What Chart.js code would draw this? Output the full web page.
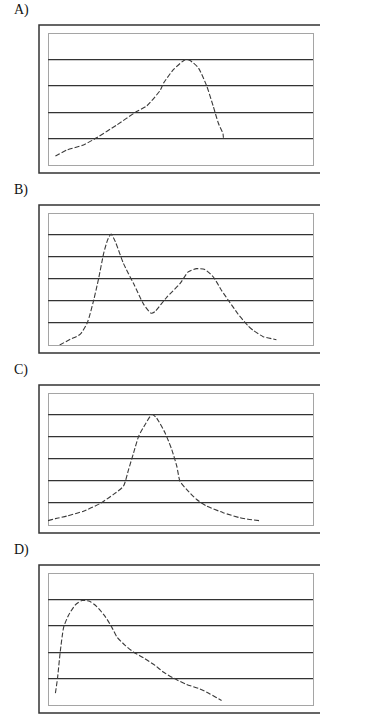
<!DOCTYPE html>
<html>
<meta name="viewport" content="width=device-width, initial-scale=1.0" />
<style>
	html, body {
		width: 100%;
		height: 100%;
		margin: 0;
		padding: 0;
		overflow: hidden;
		background: #fff;
	}
	.panel {
		position: absolute;
		left: 0;
		width: 376px;
		height: 180px;
	}
	.label {
		position: absolute;
		left: 14px;
		top: 2px;
		font-family: "Liberation Serif", "DejaVu Serif", serif;
		font-size: 14px;
		color: #111;
	}
	canvas {
		position: absolute;
		left: 0;
		top: 0;
	}
</style>
<script src="https://cdn.jsdelivr.net/npm/chart.js"></script>
<script>

	// Panel letters and the number of grid bands in each panel
	var panelLabels = ["A)", "B)", "C)", "D)"];
	var bandCounts = [5, 6, 6, 5];

	// Curve A
	var curveAx = [2.8, 7.2, 13.4, 18.5, 26, 32.9, 37.3, 42.3, 43.6, 47.3, 51.7, 53.6, 56.8, 59.9, 62.4, 64.3, 66, 66.2];
	var curveAy = [0.34, 0.57, 0.76, 1.04, 1.52, 1.99, 2.24, 2.82, 3.1, 3.61, 3.99, 3.96, 3.67, 2.99, 2.21, 1.58, 1.2, 1.03];

	// Curve B
	var curveBx = [4.4, 8.4, 12.2, 14.9, 17.2, 19.1, 21, 22.5, 23.8, 25.4, 28.5, 32.3, 36, 38.8, 40.4, 44.8, 49.8, 52.9, 56.1, 59.2, 62.4, 65.5, 68.6, 71.7, 75.5, 77.4, 81.2, 86.2];
	var curveBy = [0, 0.26, 0.49, 1.03, 2.02, 3.02, 4.16, 4.78, 5.04, 4.7, 3.7, 2.79, 1.87, 1.45, 1.52, 2.17, 2.79, 3.32, 3.47, 3.43, 3.09, 2.48, 1.94, 1.41, 0.87, 0.67, 0.38, 0.24];

	// Curve C
	var curveCx = [0, 2.8, 7.2, 13.4, 19.7, 24.7, 28.5, 30.4, 32.3, 34.2, 36.6, 39.2, 41, 44.2, 46.7, 48.6, 49.8, 52.3, 56.1, 59.9, 66.1, 72.4, 75.5, 79.7];
	var curveCy = [0.2, 0.29, 0.41, 0.63, 0.98, 1.39, 1.77, 2.52, 3.28, 4.03, 4.56, 5.02, 4.86, 4.18, 3.43, 2.67, 1.99, 1.62, 1.16, 0.86, 0.56, 0.33, 0.26, 0.2];

	// Curve D
	var curveDx = [2.8, 3.6, 4.6, 5.9, 7.8, 10.3, 12.8, 15.7, 18.4, 21.6, 24.1, 26, 29.1, 32.2, 36, 40.4, 43.5, 47.3, 52.3, 57.3, 61.1, 65.5];
	var curveDy = [0.45, 1.02, 2.0, 2.94, 3.41, 3.79, 3.96, 3.93, 3.73, 3.35, 2.94, 2.58, 2.26, 2.01, 1.79, 1.5, 1.25, 1.02, 0.78, 0.61, 0.42, 0.17];

	var curvesX = [curveAx, curveBx, curveCx, curveDx];
	var curvesY = [curveAy, curveBy, curveCy, curveDy];

	// Outer frame (left, top, bottom) and dotted box round the plot area
	var framePlugin = {
		id: 'frame',
		beforeDatasetsDraw: function (chart) {
			var a = chart.chartArea;
			var ctx = chart.ctx;
			ctx.save();
			ctx.strokeStyle = '#4a4a4a';
			ctx.lineWidth = 1;
			ctx.setLineDash([1, 1]);
			ctx.strokeRect(Math.round(a.left) + 0.5, Math.round(a.top) + 0.5,
				Math.round(a.right - a.left), Math.round(a.bottom - a.top));
			ctx.setLineDash([]);
			ctx.strokeStyle = '#333';
			ctx.lineWidth = 1.5;
			ctx.beginPath();
			ctx.moveTo(a.right + 7, a.top - 8);
			ctx.lineTo(a.left - 9, a.top - 8);
			ctx.lineTo(a.left - 9, a.bottom + 8);
			ctx.lineTo(a.right + 7, a.bottom + 8);
			ctx.stroke();
			ctx.restore();
		}
	};

	window.onload = function () {
		for (var i = 0; i < panelLabels.length; i++) {
			var div = document.createElement('div');
			div.className = 'panel';
			div.style.top = (i * 180) + 'px';
			var lab = document.createElement('div');
			lab.className = 'label';
			lab.textContent = panelLabels[i];
			div.appendChild(lab);
			var cv = document.createElement('canvas');
			cv.width = 376;
			cv.height = 180;
			div.appendChild(cv);
			document.body.appendChild(div);

			var pts = [];
			for (var j = 0; j < curvesX[i].length; j++) {
				pts.push({ x: curvesX[i][j], y: curvesY[i][j] });
			}
			var top = bandCounts[i];

			new Chart(cv, {
				type: 'scatter',
				data: {
					datasets: [{
						data: pts,
						showLine: true,
						borderColor: '#3a3a3a',
						borderWidth: 1.1,
						borderDash: [5, 2],
						pointRadius: 0,
						tension: 0.2,
						fill: false
					}]
				},
				options: {
					responsive: false,
					animation: false,
					events: [],
					plugins: { legend: { display: false }, tooltip: { enabled: false } },
					layout: { padding: { left: 48, right: 63, top: 33, bottom: 15 } },
					scales: {
						x: { type: 'linear', min: 0, max: 100, display: false },
						y: {
							type: 'linear', min: 0, max: top,
							ticks: { stepSize: 1, display: false },
							border: { display: false },
							grid: {
								drawTicks: false,
								lineWidth: 1.3,
								color: function (c) {
									var v = c.tick ? c.tick.value : 0;
									return (v > 0 && v < top) ? '#333' : 'rgba(0,0,0,0)';
								}
							},
							afterFit: function (s) { s.width = 0; }
						}
					}
				},
				plugins: [framePlugin]
			});
		}
	};

</script>
<body>
</body>
</html>
